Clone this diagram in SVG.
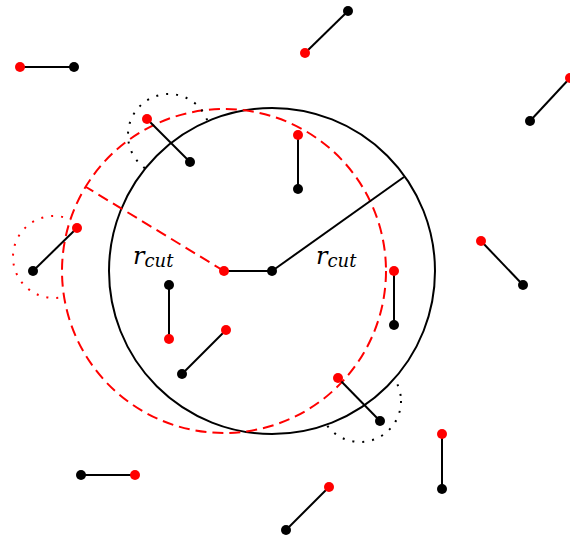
<svg xmlns="http://www.w3.org/2000/svg" width="570" height="540" viewBox="0 0 570 540">
<style>
.bond{stroke:#000;stroke-width:2;fill:none}
.r{fill:#ff0000}
.k{fill:#000}
.lbl{font-family:"DejaVu Serif",serif;font-style:italic;font-size:24px;fill:#000}
.dotk{fill:none;stroke:#000;stroke-width:2;stroke-dasharray:2 8}
.dotr{fill:none;stroke:#ff0000;stroke-width:2;stroke-dasharray:2 8}
</style>
<defs>
<clipPath id="outBlack"><path clip-rule="evenodd" d="M0 0H570V540H0Z M109 271a163 163 0 1 0 326 0a163 163 0 1 0 -326 0Z"/></clipPath>
<clipPath id="outRed"><path clip-rule="evenodd" d="M0 0H570V540H0Z M62 271a162 162 0 1 0 324 0a162 162 0 1 0 -324 0Z"/></clipPath>
</defs>
<rect width="570" height="540" fill="#fff"/>
<g id="cutoff-black">
<circle cx="272" cy="271" r="163" fill="none" stroke="#000" stroke-width="2"/>
</g>
<g id="cutoff-red">
<circle cx="224" cy="271" r="162" fill="none" stroke="#ff0000" stroke-width="2" stroke-dasharray="11 6"/>
</g>
<g id="connectors">
<line x1="224" y1="271" x2="86" y2="187" stroke="#ff0000" stroke-width="2" stroke-dasharray="11 6"/>
<line class="bond" x1="272" y1="271" x2="404" y2="177"/>
</g>
<g id="dotted">
<circle class="dotk" cx="169" cy="135" r="41" clip-path="url(#outBlack)"/>
<circle class="dotk" cx="360" cy="401" r="41" clip-path="url(#outBlack)"/>
<circle class="dotr" cx="54" cy="257" r="41" clip-path="url(#outRed)"/>
</g>
<g id="m1"><line class="bond" x1="20" y1="67" x2="74" y2="67"/><circle class="r" cx="20" cy="67" r="5"/><circle class="k" cx="74" cy="67" r="5"/></g>
<g id="m2"><line class="bond" x1="305" y1="53" x2="348" y2="11"/><circle class="r" cx="305" cy="53" r="5"/><circle class="k" cx="348" cy="11" r="5"/></g>
<g id="m3"><line class="bond" x1="570" y1="78" x2="530" y2="121"/><circle class="r" cx="570" cy="78" r="5"/><circle class="k" cx="530" cy="121" r="5"/></g>
<g id="m4"><line class="bond" x1="147" y1="119" x2="190" y2="162"/><circle class="r" cx="147" cy="119" r="5"/><circle class="k" cx="190" cy="162" r="5"/></g>
<g id="m5"><line class="bond" x1="298" y1="135" x2="298" y2="189"/><circle class="r" cx="298" cy="135" r="5"/><circle class="k" cx="298" cy="189" r="5"/></g>
<g id="m6"><line class="bond" x1="77" y1="228" x2="33" y2="271"/><circle class="r" cx="77" cy="228" r="5"/><circle class="k" cx="33" cy="271" r="5"/></g>
<g id="m7"><line class="bond" x1="224" y1="271" x2="272" y2="271"/><circle class="r" cx="224" cy="271" r="5"/><circle class="k" cx="272" cy="271" r="5"/></g>
<g id="m8"><line class="bond" x1="481" y1="241" x2="523" y2="285"/><circle class="r" cx="481" cy="241" r="5"/><circle class="k" cx="523" cy="285" r="5"/></g>
<g id="m9"><line class="bond" x1="394" y1="271" x2="394" y2="325"/><circle class="r" cx="394" cy="271" r="5"/><circle class="k" cx="394" cy="325" r="5"/></g>
<g id="m10"><line class="bond" x1="169" y1="339" x2="169" y2="285"/><circle class="r" cx="169" cy="339" r="5"/><circle class="k" cx="169" cy="285" r="5"/></g>
<g id="m11"><line class="bond" x1="226" y1="330" x2="182" y2="374"/><circle class="r" cx="226" cy="330" r="5"/><circle class="k" cx="182" cy="374" r="5"/></g>
<g id="m12"><line class="bond" x1="338" y1="378" x2="380" y2="421"/><circle class="r" cx="338" cy="378" r="5"/><circle class="k" cx="380" cy="421" r="5"/></g>
<g id="m13"><line class="bond" x1="442" y1="434" x2="442" y2="489"/><circle class="r" cx="442" cy="434" r="5"/><circle class="k" cx="442" cy="489" r="5"/></g>
<g id="m14"><line class="bond" x1="135" y1="475" x2="81" y2="475"/><circle class="r" cx="135" cy="475" r="5"/><circle class="k" cx="81" cy="475" r="5"/></g>
<g id="m15"><line class="bond" x1="329" y1="487" x2="286" y2="530"/><circle class="r" cx="329" cy="487" r="5"/><circle class="k" cx="286" cy="530" r="5"/></g>
<g id="labels">
<text class="lbl" x="133" y="264">r<tspan font-size="18" dy="3">cut</tspan></text>
<text class="lbl" x="316" y="264">r<tspan font-size="18" dy="3">cut</tspan></text>
</g>
</svg>
